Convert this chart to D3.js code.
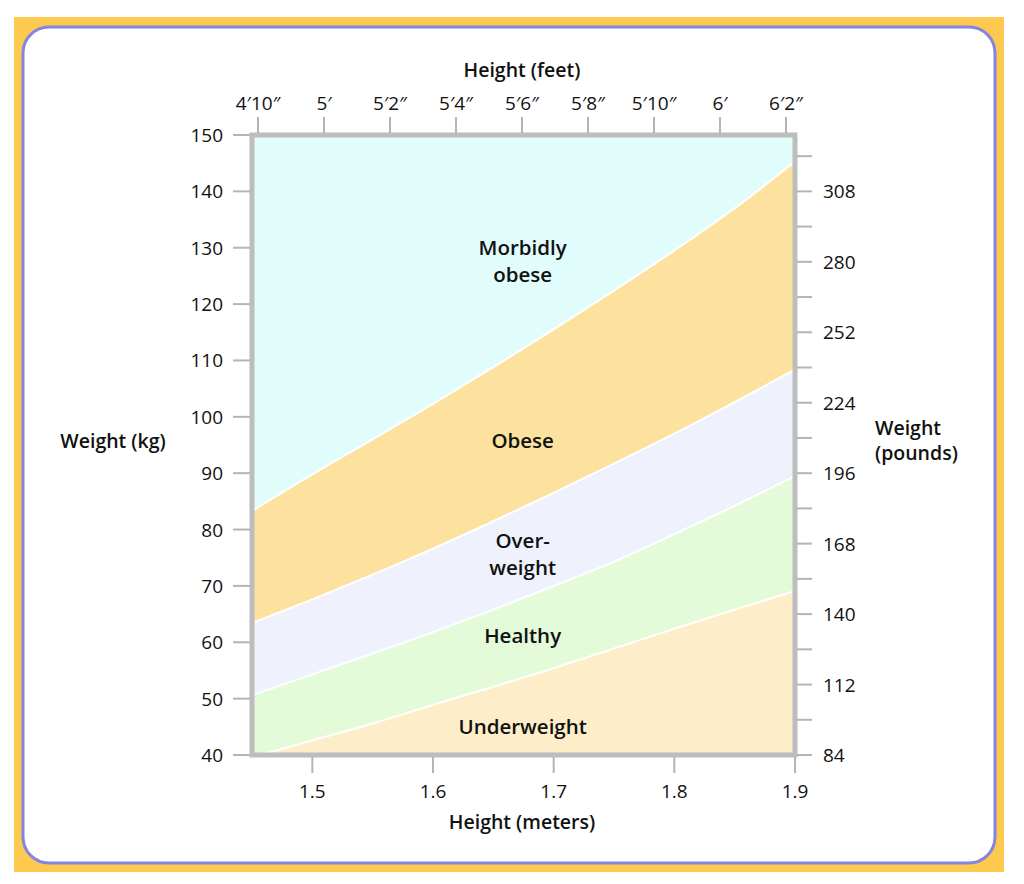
<!DOCTYPE html>
<html>
<head>
<meta charset="utf-8">
<script src="https://cdn.jsdelivr.net/npm/d3@7"></script>
<style>
  html, body { margin: 0; padding: 0; background: #fff; }
  svg { display: block; font-family: "Open Sans", sans-serif; }
  .tick-label { font-size: 19px; fill: #111; }
  .axis-title { font-size: 19.5px; font-weight: 600; fill: #111; }
  .band-label { font-size: 20.5px; font-weight: 600; fill: #111; text-anchor: middle; }
</style>
</head>
<body>
<svg id="chart" width="1024" height="884"></svg>
<script>
// heights (m) at which the boundaries were read
const heights = [1.45, 1.5, 1.55, 1.6, 1.65, 1.7, 1.75, 1.8, 1.85, 1.9];
// boundary weights (kg), bottom to top
const underHealthy = [39.6, 42.6, 45.6, 48.9, 52.1, 55.4, 58.9, 62.4, 65.8, 69.1];
const healthyOver = [50.6, 54.3, 58.0, 61.8, 65.8, 70.0, 74.3, 79.2, 84.2, 89.5];
const overObese = [63.4, 67.6, 72.0, 76.6, 81.5, 86.5, 91.7, 97.0, 102.6, 108.4];
const obeseMorbid = [83.3, 89.8, 96.0, 102.3, 108.8, 115.5, 122.4, 129.5, 137.0, 145.3];

const bandNames = ['Underweight', 'Healthy', 'Over-weight', 'Obese', 'Morbidly obese'];
const bandColors = ['#fdeec9', '#e3fbd9', '#eff1fd', '#fde29f', '#e0fcfb'];
const bandLabelLines = [['Underweight'], ['Healthy'], ['Over-', 'weight'], ['Obese'], ['Morbidly', 'obese']];
const bandLabelKg = [45, 61.1, 75.6, 95.7, 127.6];

const meterTicks = [1.5, 1.6, 1.7, 1.8, 1.9];
const kgTicks = d3.range(40, 151, 10);
const inchTicks = [58, 60, 62, 64, 66, 68, 70, 72, 74];
const inchLabels = ['4′10″', '5′', '5′2″', '5′4″', '5′6″', '5′8″', '5′10″', '6′', '6′2″'];
const poundTicks = d3.range(84, 331, 14);
const poundLabels = [84, 112, 140, 168, 196, 224, 252, 280, 308];

const svg = d3.select('#chart');

// frame
svg.append('rect').attr('x', 14).attr('y', 17).attr('width', 990).attr('height', 855).attr('fill', '#fdc94f');
svg.append('rect').attr('x', 23).attr('y', 27).attr('width', 972).attr('height', 836)
  .attr('rx', 26).attr('fill', '#fff').attr('stroke', '#8484e2').attr('stroke-width', 3);

const x = d3.scaleLinear().domain([1.45, 1.9]).range([252, 795]);
const y = d3.scaleLinear().domain([40, 150]).range([755, 135]);
const xFeet = d3.scaleLinear().domain([58, 74]).range([258, 786]);
const yLb = d3.scaleLinear().domain([84, 330.4]).range([755, 135]);

const clip = svg.append('clipPath').attr('id', 'plot-clip');
clip.append('rect').attr('x', x(1.45)).attr('y', y(150)).attr('width', x(1.9) - x(1.45)).attr('height', y(40) - y(150));

const bounds = [heights.map(() => 30), underHealthy, healthyOver, overObese, obeseMorbid, heights.map(() => 160)];

const area = d3.area()
  .x((d, i) => x(heights[i]))
  .y0((d) => y(d[0]))
  .y1((d) => y(d[1]))
  .curve(d3.curveMonotoneX);

const line = d3.line()
  .x((d, i) => x(heights[i]))
  .y((d) => y(d))
  .curve(d3.curveMonotoneX);

const plot = svg.append('g').attr('clip-path', 'url(#plot-clip)');

bandNames.forEach((name, b) => {
  const pts = heights.map((h, i) => [bounds[b][i], bounds[b + 1][i]]);
  plot.append('path').attr('d', area(pts)).attr('fill', bandColors[b]);
});

[underHealthy, healthyOver, overObese, obeseMorbid].forEach((arr) => {
  plot.append('path').attr('d', line(arr)).attr('fill', 'none').attr('stroke', '#fff').attr('stroke-width', 2);
});

// band labels
bandLabelLines.forEach((lines, b) => {
  const t = svg.append('text').attr('class', 'band-label')
    .attr('x', x(1.7) - 31).attr('y', y(bandLabelKg[b]));
  lines.forEach((s, k) => {
    t.append('tspan').attr('x', x(1.7) - 31).attr('dy', k === 0 ? (lines.length > 1 ? -6 : 7) : 27).text(s);
  });
});

// plot border
svg.append('rect').attr('x', x(1.45)).attr('y', y(150)).attr('width', x(1.9) - x(1.45)).attr('height', y(40) - y(150))
  .attr('fill', 'none').attr('stroke', '#bdbdbd').attr('stroke-width', 5);

const tickColor = '#b5b5b5';

// left axis (kg)
kgTicks.forEach((v) => {
  svg.append('line').attr('x1', 233).attr('x2', x(1.45) - 2).attr('y1', y(v)).attr('y2', y(v))
    .attr('stroke', tickColor).attr('stroke-width', 2);
  svg.append('text').attr('class', 'tick-label').attr('x', 223).attr('y', y(v) + 7)
    .attr('text-anchor', 'end').text(v);
});

// bottom axis (meters)
meterTicks.forEach((v) => {
  svg.append('line').attr('x1', x(v)).attr('x2', x(v)).attr('y1', y(40) + 2).attr('y2', 773)
    .attr('stroke', tickColor).attr('stroke-width', 2);
  svg.append('text').attr('class', 'tick-label').attr('x', x(v)).attr('y', 798)
    .attr('text-anchor', 'middle').text(v.toFixed(1));
});

// top axis (feet)
inchTicks.forEach((v, i) => {
  svg.append('line').attr('x1', xFeet(v)).attr('x2', xFeet(v)).attr('y1', 117).attr('y2', y(150) - 2)
    .attr('stroke', tickColor).attr('stroke-width', 2);
  svg.append('text').attr('class', 'tick-label').attr('x', xFeet(v)).attr('y', 110)
    .attr('text-anchor', 'middle').text(inchLabels[i]);
});

// right axis (pounds)
poundTicks.forEach((v) => {
  svg.append('line').attr('x1', x(1.9) + 2).attr('x2', 812).attr('y1', yLb(v)).attr('y2', yLb(v))
    .attr('stroke', tickColor).attr('stroke-width', 2);
  if (poundLabels.includes(v)) {
    svg.append('text').attr('class', 'tick-label').attr('x', 823).attr('y', yLb(v) + 7).text(v);
  }
});

// axis titles
svg.append('text').attr('class', 'axis-title').attr('x', 522).attr('y', 77).attr('text-anchor', 'middle').text('Height (feet)');
svg.append('text').attr('class', 'axis-title').attr('x', 522).attr('y', 829).attr('text-anchor', 'middle').text('Height (meters)');
svg.append('text').attr('class', 'axis-title').attr('x', 113).attr('y', 448).attr('text-anchor', 'middle').text('Weight (kg)');
const wt = svg.append('text').attr('class', 'axis-title').attr('x', 875).attr('y', 435);
wt.append('tspan').attr('x', 875).text('Weight');
wt.append('tspan').attr('x', 875).attr('dy', 25).text('(pounds)');
</script>
</body>
</html>
